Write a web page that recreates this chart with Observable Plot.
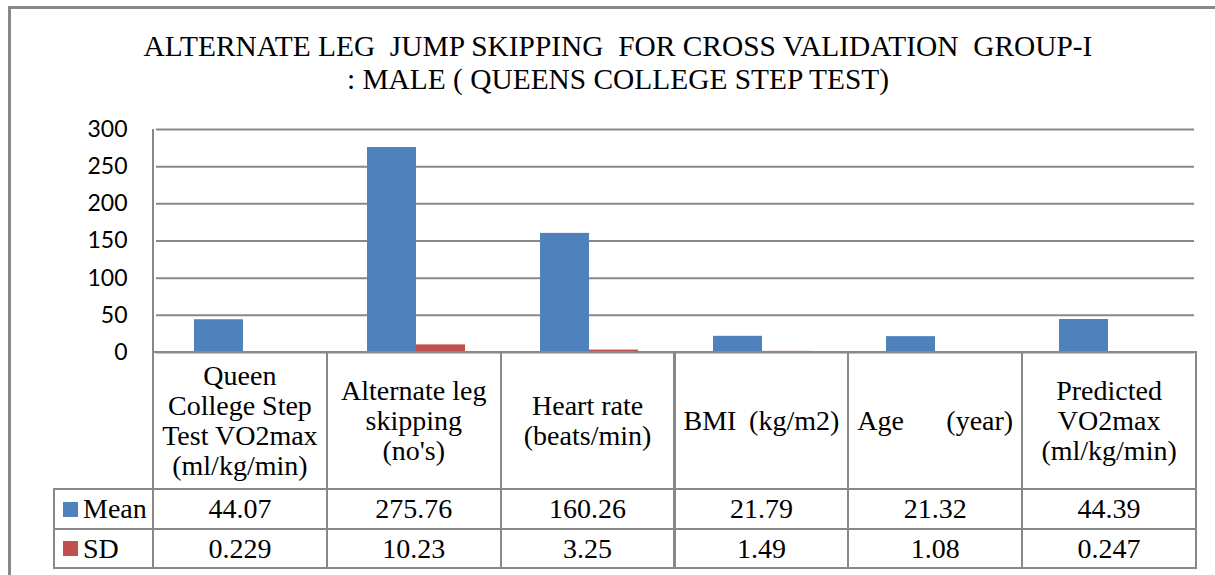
<!DOCTYPE html>
<html><head><meta charset="utf-8">
<script src="https://cdn.jsdelivr.net/npm/d3@7"></script>
<script src="https://cdn.jsdelivr.net/npm/@observablehq/plot@0.6"></script>
<style>
html,body{margin:0;padding:0;background:#fff;overflow:hidden;}
#wrap{position:relative;width:1215px;height:575px;overflow:hidden;background:#fff;}
#frame{position:absolute;left:8px;top:6px;width:1300px;height:700px;border:3px solid #888;box-sizing:border-box;}
#title{position:absolute;left:0;width:1236px;top:30px;text-align:center;font-family:"Liberation Serif",serif;font-size:29.4px;line-height:33px;color:#000;white-space:pre;}
#chart{position:absolute;left:0;top:0;}
.cell{position:absolute;box-sizing:border-box;border:2px solid #888;display:flex;align-items:center;justify-content:center;text-align:center;font-family:"Liberation Serif",serif;font-size:28px;color:#000;background:transparent;}
.cell.cat{line-height:30px;white-space:pre-line;}
.cell.just{justify-content:stretch;padding:0 8px;}
.cell.just span{display:block;width:100%;text-align:justify;text-align-last:justify;}
.cell.leg{justify-content:flex-start;padding-left:8px;white-space:nowrap;}
.sw{display:inline-block;width:15px;height:15px;margin-right:5px;}
</style>
</head><body>
<div id="wrap">
  <div id="frame"></div>
  <div id="title"></div>
</div>
<script>
const titleLines = ["ALTERNATE LEG  JUMP SKIPPING  FOR CROSS VALIDATION  GROUP-I", ": MALE ( QUEENS COLLEGE STEP TEST)"];
const categories = [
  "Queen\nCollege Step\nTest VO2max\n(ml/kg/min)",
  "Alternate leg\nskipping\n(no's)",
  "Heart rate\n(beats/min)",
  "BMI  (kg/m2)",
  "Age      (year)",
  "Predicted\nVO2max\n(ml/kg/min)"
];
const series = ["Mean", "SD"];
const meanValues = [44.07, 275.76, 160.26, 21.79, 21.32, 44.39];
const sdValues = [0.229, 10.23, 3.25, 1.49, 1.08, 0.247];
const yTicks = [0, 50, 100, 150, 200, 250, 300];
const seriesColors = ["#4F81BD", "#C0504D"];

const valuesBySeries = {Mean: meanValues, SD: sdValues};
const rows = categories.flatMap((c, i) => series.map(s => ({cat: c, series: s, value: valuesBySeries[s][i]})));

document.getElementById("title").textContent = titleLines.join("\n");

const chart = Plot.plot({
  width: 1215,
  height: 360,
  marginLeft: 153,
  marginRight: 19,
  marginTop: 129,
  marginBottom: 8,
  style: {fontFamily: "Lato", fontSize: "23px", color: "#000", background: "transparent", overflow: "visible"},
  facet: {data: rows, x: "cat"},
  fx: {domain: categories, padding: 0, axis: null, label: null},
  x: {domain: series, paddingInner: 0, paddingOuter: 0.74, axis: null},
  y: {domain: [0, 300], ticks: yTicks, tickSize: 0, tickPadding: 29, label: null},
  color: {domain: series, range: seriesColors},
  marks: [
    Plot.ruleY(yTicks, {stroke: "#888", strokeWidth: 2, strokeOpacity: 1}),
    Plot.barY(rows, {x: "series", y: "value", fill: "series"})
  ]
});
chart.id = "chart";
const wrap = document.getElementById("wrap");
wrap.appendChild(chart);

const fx = chart.scale("fx");
const y = chart.scale("y");
const x0 = fx.range[0];
const x1 = fx.range[1];
const bw = (x1 - x0) / categories.length;
// left value axis line
d3.select(chart).append("line")
  .attr("x1", x0).attr("x2", x0)
  .attr("y1", y.apply(yTicks[yTicks.length - 1])).attr("y2", y.apply(0))
  .attr("stroke", "#888").attr("stroke-width", 2);

// data table under the plot, aligned to the facet scale
const legendWidth = 99;
const rowHeights = [137, 40, 39];
const yRow = [y.apply(0)];
rowHeights.forEach(h => yRow.push(yRow[yRow.length - 1] + h));

function cell(left, width, top, height, cls) {
  const d = document.createElement("div");
  d.className = "cell " + cls;
  d.style.left = (left - 1) + "px";
  d.style.width = (width + 2) + "px";
  d.style.top = (top - 1) + "px";
  d.style.height = (height + 2) + "px";
  wrap.appendChild(d);
  return d;
}
categories.forEach((c, i) => {
  const left = x0 + i * bw;
  const justified = !c.includes("\n");
  const d = cell(left, bw, yRow[0], rowHeights[0], justified ? "cat just" : "cat");
  if (justified) { const sp = document.createElement("span"); sp.textContent = c; d.appendChild(sp); }
  else d.textContent = c;
});
series.forEach((s, si) => {
  const lg = cell(x0 - legendWidth, legendWidth, yRow[si + 1], rowHeights[si + 1], "leg");
  const sw = document.createElement("span"); sw.className = "sw"; sw.style.background = seriesColors[si];
  lg.appendChild(sw); lg.appendChild(document.createTextNode(s));
  valuesBySeries[s].forEach((v, i) => {
    const d = cell(x0 + i * bw, bw, yRow[si + 1], rowHeights[si + 1], "val");
    d.textContent = String(v);
  });
});
</script>
</body></html>
